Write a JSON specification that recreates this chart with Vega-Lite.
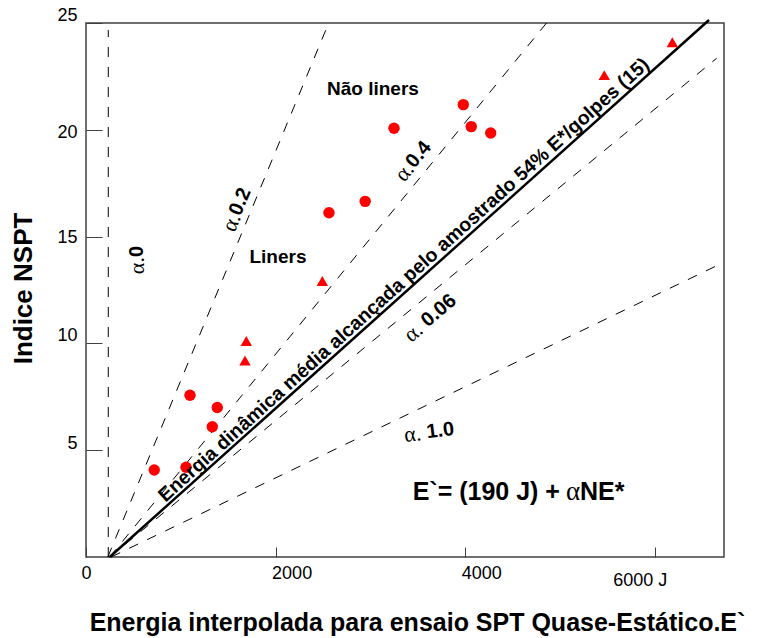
{
  "$schema": "https://vega.github.io/schema/vega-lite/v6.json",
  "width": 638,
  "height": 534,
  "autosize": "none",
  "padding": {"left": 86, "top": 23, "right": 38, "bottom": 81},
  "background": "white",
  "config": {
    "view": {"stroke": "#404040", "strokeWidth": 1.5},
    "font": "Liberation Sans",
    "text": {"font": "Liberation Sans", "color": "black"}
  },
  "datasets": {
    "points": [
      {"x": 720, "y": 4.07, "grupo": "Não liners"},
      {"x": 1055, "y": 4.2, "grupo": "Não liners"},
      {"x": 1097, "y": 7.57, "grupo": "Não liners"},
      {"x": 1385, "y": 7.0, "grupo": "Não liners"},
      {"x": 1332, "y": 6.1, "grupo": "Não liners"},
      {"x": 2563, "y": 16.12, "grupo": "Não liners"},
      {"x": 2945, "y": 16.65, "grupo": "Não liners"},
      {"x": 3249, "y": 20.07, "grupo": "Não liners"},
      {"x": 3980, "y": 21.18, "grupo": "Não liners"},
      {"x": 4064, "y": 20.15, "grupo": "Não liners"},
      {"x": 4269, "y": 19.85, "grupo": "Não liners"},
      {"x": 2493, "y": 12.92, "grupo": "Liners"},
      {"x": 1691, "y": 10.11, "grupo": "Liners"},
      {"x": 1677, "y": 9.2, "grupo": "Liners"},
      {"x": 5467, "y": 22.56, "grupo": "Liners"},
      {"x": 6185, "y": 24.1, "grupo": "Liners"}
    ],
    "guides": [
      {"alpha": "0", "x": 235, "y": 0},
      {"alpha": "0", "x": 235, "y": 24.67},
      {"alpha": "0.2", "x": 230, "y": 0},
      {"alpha": "0.2", "x": 2560, "y": 25},
      {"alpha": "0.4", "x": 250, "y": 0},
      {"alpha": "0.4", "x": 4858, "y": 25},
      {"alpha": "0.06", "x": 250, "y": 0},
      {"alpha": "0.06", "x": 6653, "y": 23.35},
      {"alpha": "1.0", "x": 265, "y": 0},
      {"alpha": "1.0", "x": 6730, "y": 13.8}
    ],
    "mean": [
      {"x": 250, "y": 0},
      {"x": 6572, "y": 25.14}
    ]
  },
  "encoding": {
    "x": {
      "field": "x",
      "type": "quantitative",
      "scale": {"domain": [0, 6730], "nice": false, "zero": false},
      "axis": {
        "values": [0, 2000, 4000, 6000],
        "format": "d",
        "labelExpr": "datum.value == 6000 ? '6000 J' : datum.label",
        "domain": false,
        "grid": false,
        "tickSize": -10,
        "tickColor": "#404040",
        "tickWidth": 1,
        "labelFont": "Liberation Sans",
        "labelFontSize": 18,
        "labelColor": "black",
        "labelBaseline": "top",
        "labelFlush": false,
        "labelOverlap": false,
        "labelAlign": {"condition": {"test": "datum.value == 0", "value": "center"}, "value": "left"},
        "labelOffset": {"condition": [{"test": "datum.value == 0", "value": 0}, {"test": "datum.value == 6000", "value": -42}], "value": -4},
        "labelPadding": {"condition": {"test": "datum.value == 6000", "value": 24}, "value": 17},
        "title": "Energia interpolada para ensaio SPT Quase-Estático.E`",
        "titleFont": "Liberation Sans",
        "titleFontSize": 25,
        "titleFontWeight": "bold",
        "titleColor": "black",
        "titleX": 331,
        "titleY": 73,
        "titleAlign": "center",
        "titleBaseline": "alphabetic"
      }
    },
    "y": {
      "field": "y",
      "type": "quantitative",
      "scale": {"domain": [0, 25], "nice": false},
      "axis": {
        "values": [5, 10, 15, 20, 25],
        "domain": false,
        "grid": false,
        "tickSize": -16,
        "tickColor": "#404040",
        "tickWidth": 1,
        "labelFont": "Liberation Sans",
        "labelFontSize": 18,
        "labelColor": "black",
        "labelPadding": 25,
        "labelFlush": false,
        "labelOverlap": false,
        "labelOffset": {"condition": [{"test": "datum.value == 25", "value": -8}, {"test": "datum.value == 10", "value": -8}, {"test": "datum.value == 5", "value": -7}, {"test": "datum.value == 20", "value": 3}], "value": 1},
        "title": "Indice NSPT",
        "titleFont": "Liberation Sans",
        "titleFontSize": 26,
        "titleFontWeight": "bold",
        "titleColor": "black",
        "titleX": -63,
        "titleY": 265,
        "titleAngle": -90,
        "titleAlign": "center",
        "titleBaseline": "middle"
      }
    }
  },
  "layer": [
    {
      "data": {"name": "guides"},
      "mark": {"type": "line", "color": "black", "strokeWidth": 1, "strokeDash": [10, 10]},
      "encoding": {"detail": {"field": "alpha", "type": "nominal"}}
    },
    {
      "data": {"name": "mean"},
      "mark": {"type": "line", "color": "black", "strokeWidth": 2.5},
      "encoding": {}
    },
    {
      "data": {"name": "points"},
      "mark": {"type": "point", "filled": true, "opacity": 1, "color": "#ff0000", "size": 130},
      "encoding": {
        "shape": {"field": "grupo", "type": "nominal", "scale": {"domain": ["Não liners", "Liners"], "range": ["circle", "triangle-up"]}, "legend": null}
      }
    },
    {
      "data": {"values": [{"x": 3027, "y": 21.91, "t": "Não liners"}, {"x": 2025, "y": 14.04, "t": "Liners"}]},
      "mark": {"type": "text", "fontSize": 19, "fontWeight": "bold", "align": "center", "baseline": "middle"},
      "encoding": {"text": {"field": "t"}}
    },
    {
      "data": {"values": [{"x": 3424, "y": 12.62, "t": "Energia dinâmica média alcançada pelo amostrado 54% E*/golpes (15)"}]},
      "mark": {"type": "text", "fontSize": 19.5, "fontWeight": "bold", "align": "center", "baseline": "alphabetic", "angle": -42, "dy": -4},
      "encoding": {"text": {"field": "t"}}
    },
    {
      "data": {"values": [{"x": 5137, "y": 3.04, "t": "E`= (190 J) +"}]},
      "mark": {"type": "text", "fontSize": 25, "fontWeight": "bold", "align": "right", "baseline": "middle", "dx": -13},
      "encoding": {"text": {"field": "t"}}
    },
    {
      "data": {"values": [{"x": 5137, "y": 3.04, "t": "α"}]},
      "mark": {"type": "text", "font": "Liberation Serif", "fontSize": 27, "align": "center", "baseline": "middle"},
      "encoding": {"text": {"field": "t"}}
    },
    {
      "data": {"values": [{"x": 5137, "y": 3.04, "t": "NE*"}]},
      "mark": {"type": "text", "fontSize": 25, "fontWeight": "bold", "align": "left", "baseline": "middle", "dx": 7},
      "encoding": {"text": {"field": "t"}}
    },
    {
      "data": {"values": [{"x": 538, "y": 13.9, "t": "α."}]},
      "mark": {"type": "text", "font": "Liberation Serif", "fontSize": 22, "align": "right", "baseline": "middle", "angle": -90, "dx": 3},
      "encoding": {"text": {"field": "t"}}
    },
    {
      "data": {"values": [{"x": 538, "y": 13.9, "t": "0"}]},
      "mark": {"type": "text", "fontSize": 20, "fontWeight": "bold", "align": "left", "baseline": "middle", "angle": -90, "dx": 3},
      "encoding": {"text": {"field": "t"}}
    },
    {
      "data": {"values": [{"x": 1589, "y": 16.25, "t": "α."}]},
      "mark": {"type": "text", "font": "Liberation Serif", "fontSize": 22, "align": "right", "baseline": "middle", "angle": -67, "dx": -5},
      "encoding": {"text": {"field": "t"}}
    },
    {
      "data": {"values": [{"x": 1589, "y": 16.25, "t": "0.2"}]},
      "mark": {"type": "text", "fontSize": 20, "fontWeight": "bold", "align": "left", "baseline": "middle", "angle": -67, "dx": -5},
      "encoding": {"text": {"field": "t"}}
    },
    {
      "data": {"values": [{"x": 3449, "y": 18.52, "t": "α."}]},
      "mark": {"type": "text", "font": "Liberation Serif", "fontSize": 22, "align": "right", "baseline": "middle", "angle": -50, "dx": -5},
      "encoding": {"text": {"field": "t"}}
    },
    {
      "data": {"values": [{"x": 3449, "y": 18.52, "t": "0.4"}]},
      "mark": {"type": "text", "fontSize": 20, "fontWeight": "bold", "align": "left", "baseline": "middle", "angle": -50, "dx": -5},
      "encoding": {"text": {"field": "t"}}
    },
    {
      "data": {"values": [{"x": 3629, "y": 11.19, "t": "α."}]},
      "mark": {"type": "text", "font": "Liberation Serif", "fontSize": 22, "align": "right", "baseline": "middle", "angle": -40, "dx": -13.5},
      "encoding": {"text": {"field": "t"}}
    },
    {
      "data": {"values": [{"x": 3629, "y": 11.19, "t": "0.06"}]},
      "mark": {"type": "text", "fontSize": 20, "fontWeight": "bold", "align": "left", "baseline": "middle", "angle": -40, "dx": -8},
      "encoding": {"text": {"field": "t"}}
    },
    {
      "data": {"values": [{"x": 3618, "y": 5.85, "t": "α."}]},
      "mark": {"type": "text", "font": "Liberation Serif", "fontSize": 22, "align": "right", "baseline": "middle", "angle": -7, "dx": -8},
      "encoding": {"text": {"field": "t"}}
    },
    {
      "data": {"values": [{"x": 3618, "y": 5.85, "t": "1.0"}]},
      "mark": {"type": "text", "fontSize": 20, "fontWeight": "bold", "align": "left", "baseline": "middle", "angle": -7, "dx": -2.5},
      "encoding": {"text": {"field": "t"}}
    }
  ]
}
